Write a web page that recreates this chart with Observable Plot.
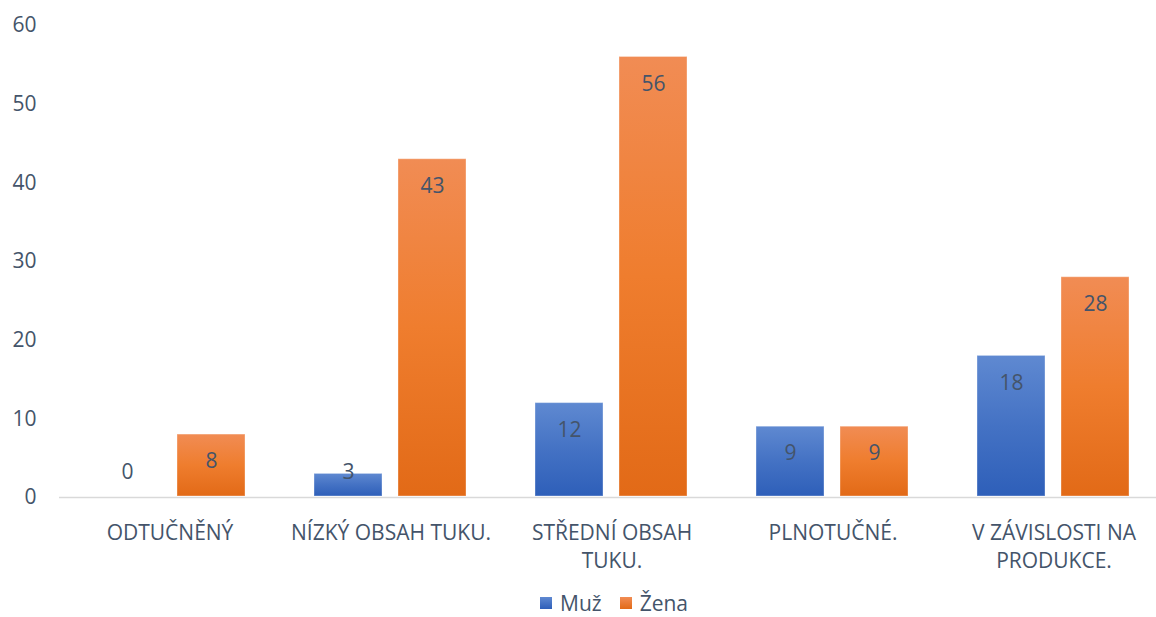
<!DOCTYPE html>
<html><head><meta charset="utf-8">
<script src="https://cdn.jsdelivr.net/npm/d3@7"></script>
<script src="https://cdn.jsdelivr.net/npm/@observablehq/plot@0.6"></script>
<style>
html,body{margin:0;background:#fff;font-family:"Open Sans",sans-serif;}
#chart{position:absolute;left:0;top:0;width:1156px;height:585px;overflow:hidden;}
#chart svg{max-width:none !important;display:block;}
#legend{position:absolute;left:0;top:592px;display:flex;justify-content:center;align-items:center;width:1156px;height:21px;padding-left:90px;box-sizing:border-box;font-size:21px;color:#44546a;}
#legend .sw{width:12px;height:12px;display:inline-block;}
#legend .item{display:flex;align-items:center;gap:8px;margin-right:18px;}
</style></head><body><div id="chart"></div><div id="legend"></div><script>
const categories = ["ODTUČNĚNÝ","NÍZKÝ OBSAH TUKU.","STŘEDNÍ OBSAH TUKU.","PLNOTUČNÉ.","V ZÁVISLOSTI NA PRODUKCE."];
const categoryLabels = ["ODTUČNĚNÝ","NÍZKÝ OBSAH TUKU.","STŘEDNÍ OBSAH\nTUKU.","PLNOTUČNÉ.","V ZÁVISLOSTI NA\nPRODUKCE."];
const series = ["Muž","Žena"];
const muz = [0,3,12,9,18];
const zena = [8,43,56,9,28];
const yTicks = [0,10,20,30,40,50,60];

const data = categories.flatMap((c,i)=>[{cat:c,s:series[0],v:muz[i]},{cat:c,s:series[1],v:zena[i]}]);
const textColor = "#44546a";

const svg = Plot.plot({
  width:1166, height:585,
  marginLeft:57, marginRight:0, marginTop:25, marginBottom:88,
  style:{fontFamily:"'Open Sans', sans-serif", fontSize:"21px", background:"#fff", maxWidth:"none"},
  fx:{domain:categories, padding:0, label:null},
  x:{domain:series, paddingInner:0.19, paddingOuter:0.4, axis:null},
  y:{domain:[0,60], label:null},
  marks:[
    Plot.ruleY([0],{stroke:"#d9d9d9", strokeWidth:1.5}),
    Plot.barY(data,{fx:"cat", x:"s", y:"v", filter:d=>d.s===series[0], fill:"url(#gMuz)", stroke:"#ffffff", strokeOpacity:0.35, insetBottom:1}),
    Plot.barY(data,{fx:"cat", x:"s", y:"v", filter:d=>d.s===series[1], fill:"url(#gZena)", stroke:"#ffffff", strokeOpacity:0.35, insetBottom:1}),
    Plot.text(data,{fx:"cat", x:"s", y:d=>Math.max(d.v,6.7), dy:27, text:d=>String(d.v), fontSize:21, fill:textColor}),
    Plot.axisY({ticks:yTicks, tickSize:0, tickPadding:23, fontSize:21, fill:textColor, label:null}),
    Plot.axisFx({anchor:"bottom", tickSize:0, tickPadding:22, fontSize:21, fill:textColor, lineHeight:1.35, label:null,
      tickFormat:c=>categoryLabels[categories.indexOf(c)]})
  ]
});
svg.style.maxWidth = "none";
d3.select(svg).insert("defs",":first-child").html(`
  <linearGradient id="gMuz" x1="0" y1="0" x2="0" y2="1">
    <stop offset="0" stop-color="#5f89d1"/><stop offset="0.5" stop-color="#4472c4"/><stop offset="1" stop-color="#2e5fb9"/>
  </linearGradient>
  <linearGradient id="gZena" x1="0" y1="0" x2="0" y2="1">
    <stop offset="0" stop-color="#f18c54"/><stop offset="0.5" stop-color="#ef7d2e"/><stop offset="1" stop-color="#e26a17"/>
  </linearGradient>`);
document.getElementById("chart").appendChild(svg);

const legendColors = ["linear-gradient(#5f89d1,#2e5fb9)","linear-gradient(#f18c54,#e26a17)"];
const legend = d3.select("#legend");
series.forEach((s,i)=>{
  const it = legend.append("div").attr("class","item");
  it.append("span").attr("class","sw").style("background",legendColors[i]);
  it.append("span").text(s);
});
</script></body></html>
